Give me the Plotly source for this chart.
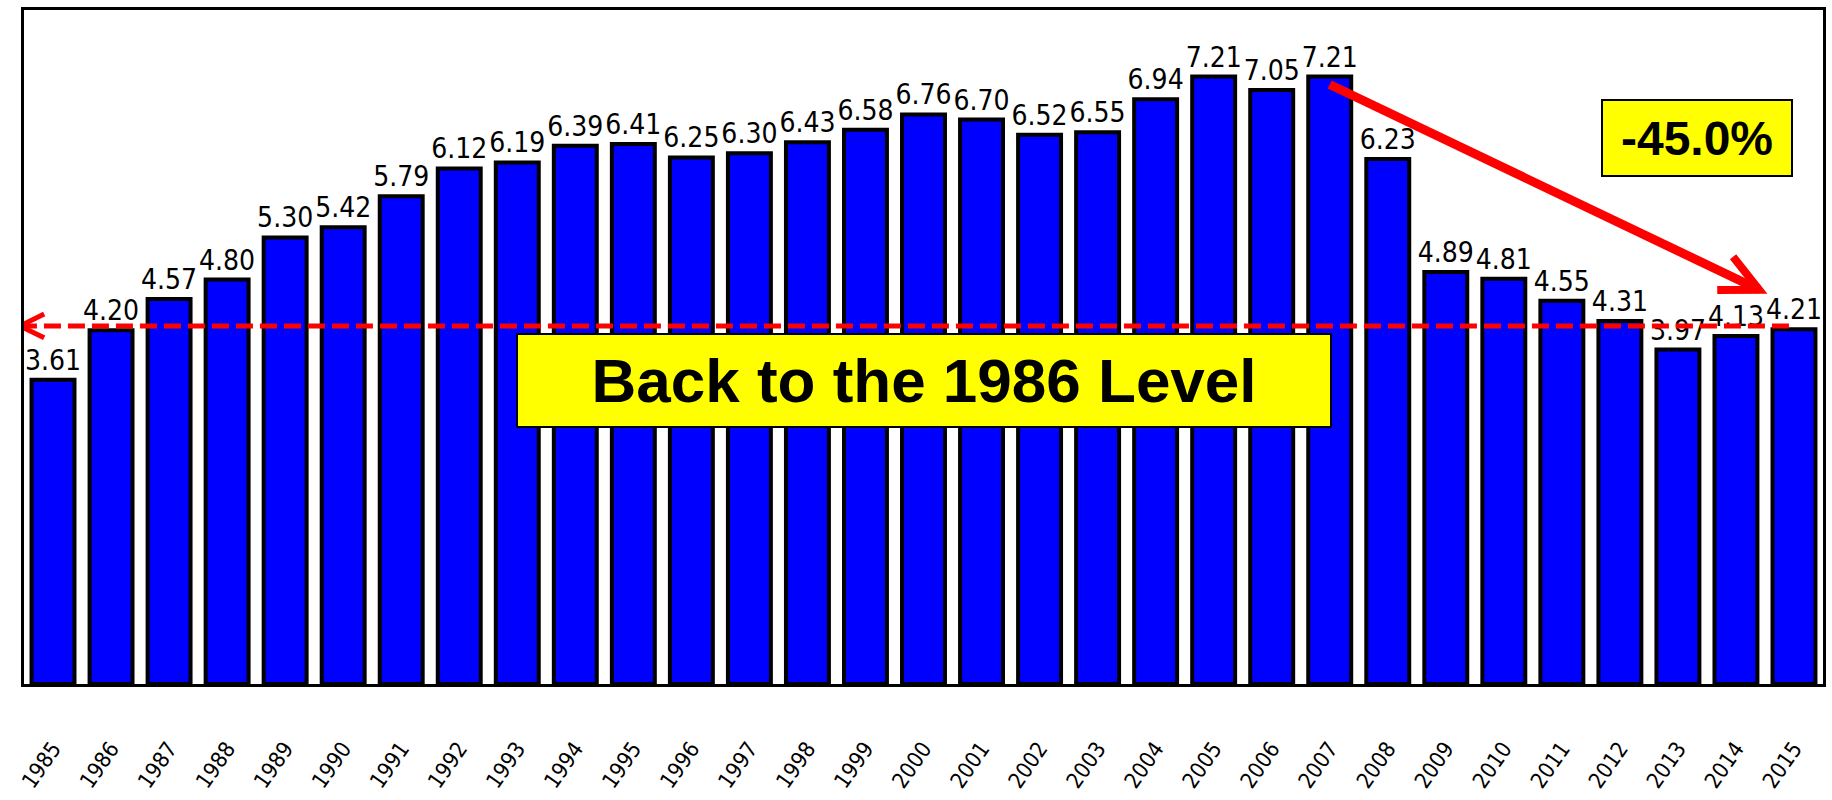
import math
import plotly.graph_objects as go

# Annual values, 1985-2015
years = [str(y) for y in range(1985, 2016)]
values = [3.61, 4.20, 4.57, 4.80, 5.30, 5.42, 5.79, 6.12, 6.19, 6.39, 6.41,
          6.25, 6.30, 6.43, 6.58, 6.76, 6.70, 6.52, 6.55, 6.94, 7.21, 7.05,
          7.21, 6.23, 4.89, 4.81, 4.55, 4.31, 3.97, 4.13, 4.21]

peak_year = "2007"
last_year = "2015"
change_text = "-45.0%"
level_text = "Back to the 1986 Level"
level_value = 4.25

W, H = 1832, 800
M_L, M_R, M_T, M_B = 24, 6, 10, 116
Y_MAX = 8.0
xpos = list(range(len(years)))

# pixel size of one data unit, used to shape the arrow heads
ux = (W - M_L - M_R) / len(years)
uy = (H - M_T - M_B) / Y_MAX

NARROW = "Liberation Sans Narrow, Arial Narrow, DejaVu Sans Condensed, sans-serif"
BOLD = "Liberation Sans, Arial, sans-serif"
RED = "#FF0000"

fig = go.Figure(go.Bar(
    x=xpos, y=values,
    width=0.74,
    marker=dict(color="#0000FF", line=dict(color="black", width=4)),
    texttemplate="%{y:.2f}", textposition="outside",
    textfont=dict(family=NARROW, size=28, color="black"),
    constraintext="none", cliponaxis=False,
    hoverinfo="x+y",
))


def head(tip_x, tip_y, back_dx, back_dy, length, spread_deg):
    """Open chevron path at (tip_x, tip_y); back_d* is the screen-space
    direction pointing from the tip back along the shaft."""
    n = math.hypot(back_dx, back_dy)
    bx, by = back_dx / n, back_dy / n
    pts = []
    for s in (spread_deg, -spread_deg):
        a = math.radians(s)
        rx = bx * math.cos(a) - by * math.sin(a)
        ry = bx * math.sin(a) + by * math.cos(a)
        # screen y points down, data y points up
        pts.append((tip_x + rx * length / ux, tip_y - ry * length / uy))
    (x1, y1), (x2, y2) = pts
    return f"M {x1},{y1} L {tip_x},{tip_y} L {x2},{y2}"


shapes = []

# dashed reference line at the 1986 level, arrow pointing left
left_tip = -0.57
right_end = years.index(last_year)
shapes.append(dict(type="line", xref="x", yref="y",
                   x0=left_tip, x1=right_end, y0=level_value, y1=level_value,
                   line=dict(color=RED, width=5, dash="17px,7px"),
                   layer="above"))
shapes.append(dict(type="path", xref="x", yref="y",
                   path=head(left_tip, level_value, 1, 0, 27, 26),
                   line=dict(color=RED, width=5), layer="above"))

# solid arrow from the peak down to the latest year
i_peak = years.index(peak_year)
sx, sy = i_peak, values[i_peak] - 8 / uy
tx, ty = 29.4, 4.68
shapes.append(dict(type="line", xref="x", yref="y",
                   x0=sx, y0=sy, x1=tx, y1=ty,
                   line=dict(color=RED, width=9), layer="above"))
shapes.append(dict(type="path", xref="x", yref="y",
                   path=head(tx, ty, -(tx - sx) * ux, (ty - sy) * uy, 42, 26),
                   line=dict(color=RED, width=8), layer="above"))

annotations = [
    dict(x=15.0, y=3.6, xref="x", yref="y", text=f"<b>{level_text}</b>",
         showarrow=False, width=812, height=91, borderpad=0,
         bgcolor="#FFFF00", bordercolor="black", borderwidth=2,
         font=dict(family=BOLD, size=62, color="black")),
    dict(x=28.33, y=6.48, xref="x", yref="y", text=f"<b>{change_text}</b>",
         showarrow=False, width=188, height=74, borderpad=0,
         bgcolor="#FFFF00", bordercolor="black", borderwidth=2,
         font=dict(family=BOLD, size=48, color="black")),
]

fig.update_layout(
    width=W, height=H,
    margin=dict(l=M_L, r=M_R, t=M_T, b=M_B, pad=0),
    paper_bgcolor="white", plot_bgcolor="white",
    showlegend=False, bargap=0.26,
    shapes=shapes, annotations=annotations,
    xaxis=dict(range=[-0.5, len(years) - 0.5], tickvals=xpos, ticktext=years,
               tickangle=-55, ticks="outside", ticklen=40,
               tickcolor="rgba(0,0,0,0)",
               tickfont=dict(family=NARROW, size=22, color="black"),
               showgrid=False, zeroline=False,
               showline=True, linecolor="black", linewidth=3, mirror=True),
    yaxis=dict(range=[0, Y_MAX], showticklabels=False, ticks="",
               showgrid=False, zeroline=False,
               showline=True, linecolor="black", linewidth=3, mirror=True),
)

fig.write_html("out.html")
